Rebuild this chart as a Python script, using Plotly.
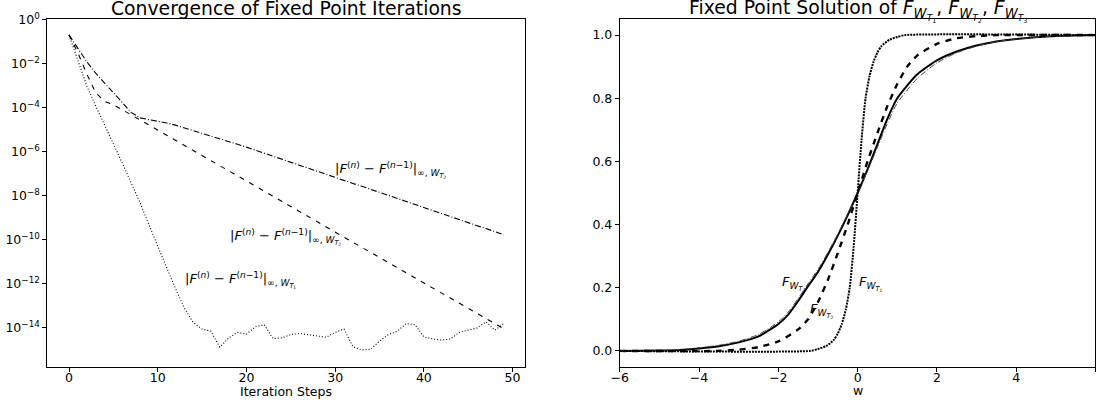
import plotly.graph_objects as go

# ---------------- data: left panel (log10 of sup-norm differences) ----------------
steps = list(range(50))
log_err_T1 = [-0.68, -1.8, -3.0, -3.9, -4.75, -5.6, -6.5, -7.4, -8.3, -9.3,
              -10.3, -11.25, -12.2, -13.1, -13.75, -14.05, -14.15, -14.87, -14.45, -14.2,
              -14.28, -13.95, -13.85, -14.48, -14.45, -14.3, -14.25, -14.3, -14.36, -14.42,
              -14.2, -14.05, -14.85, -15.0, -14.97, -14.6, -14.3, -14.15, -13.8, -13.85,
              -14.4, -14.5, -14.55, -14.5, -14.2, -14.1, -14.0, -13.72, -14.1, -13.8]
log_err_T2 = [-0.68, -1.5, -2.45, -3.3, -3.7, -3.85, -4.08, -4.31, -4.55, -4.78,
              -5.01, -5.24, -5.47, -5.70, -5.93, -6.17, -6.40, -6.63, -6.86, -7.09,
              -7.32, -7.55, -7.79, -8.02, -8.25, -8.48, -8.71, -8.94, -9.17, -9.41,
              -9.64, -9.87, -10.10, -10.33, -10.56, -10.79, -11.03, -11.26, -11.49, -11.72,
              -11.95, -12.18, -12.41, -12.65, -12.88, -13.11, -13.34, -13.57, -13.80, -14.03]
log_err_T3 = [-0.68, -1.3, -1.9, -2.42, -2.85, -3.3, -3.75, -4.2, -4.45, -4.53,
              -4.6, -4.68, -4.78, -4.9, -5.02, -5.15, -5.27, -5.4, -5.52, -5.65,
              -5.78, -5.92, -6.05, -6.19, -6.33, -6.47, -6.60, -6.74, -6.88, -7.01,
              -7.15, -7.29, -7.43, -7.56, -7.70, -7.84, -7.97, -8.11, -8.25, -8.39,
              -8.52, -8.66, -8.80, -8.93, -9.07, -9.21, -9.35, -9.48, -9.62, -9.76]
err_T1 = [10 ** v for v in log_err_T1]
err_T2 = [10 ** v for v in log_err_T2]
err_T3 = [10 ** v for v in log_err_T3]

log_tick_vals = [1e0, 1e-2, 1e-4, 1e-6, 1e-8, 1e-10, 1e-12, 1e-14]
log_tick_text = ["10<sup>0</sup>", "10<sup>\u22122</sup>", "10<sup>\u22124</sup>", "10<sup>\u22126</sup>",
                 "10<sup>\u22128</sup>", "10<sup>\u221210</sup>", "10<sup>\u221212</sup>", "10<sup>\u221214</sup>"]

# ---------------- data: right panel (fixed point CDFs) ----------------
w_T1 = [-6, -1.2, -1.0, -0.8, -0.6, -0.5, -0.4, -0.3, -0.2, -0.1, 0.0,
        0.1, 0.2, 0.3, 0.4, 0.5, 0.6, 0.8, 1.0, 1.2, 6]
F_T1 = [0.0, 0.0, 0.006, 0.015, 0.035, 0.055, 0.085, 0.13, 0.2, 0.33, 0.5,
        0.67, 0.8, 0.87, 0.915, 0.945, 0.965, 0.985, 0.994, 1.0, 1.0]

w_T2 = [-6, -3.5, -3.0, -2.5, -2.0, -1.5, -1.25, -1.0, -0.75, -0.5, -0.25, 0.0,
        0.25, 0.5, 0.75, 1.0, 1.25, 1.5, 2.0, 2.5, 3.0, 3.5, 6]
F_T2 = [0.0, 0.0, 0.004, 0.012, 0.03, 0.068, 0.1, 0.155, 0.225, 0.31, 0.4, 0.5,
        0.6, 0.69, 0.775, 0.845, 0.9, 0.935, 0.972, 0.99, 0.997, 1.0, 1.0]

w_T3 = [-6, -5.0, -4.5, -4.0, -3.5, -3.0, -2.5, -2.0, -1.75, -1.5, -1.25, -1.0, -0.75, -0.5, -0.25, 0.0,
        0.25, 0.5, 0.75, 1.0, 1.5, 2.0, 2.5, 3.0, 3.5, 4.0, 5.0, 6]
F_T3 = [0.0, 0.001, 0.003, 0.008, 0.015, 0.027, 0.046, 0.085, 0.115, 0.158, 0.205, 0.25, 0.305, 0.365, 0.43, 0.5,
        0.575, 0.655, 0.735, 0.8, 0.875, 0.92, 0.948, 0.967, 0.98, 0.988, 0.997, 1.0]
F_T3_alt = [0.0, 0.001, 0.004, 0.01, 0.018, 0.031, 0.052, 0.092, 0.123, 0.166, 0.213, 0.258, 0.312, 0.37, 0.434, 0.5,
            0.57, 0.645, 0.72, 0.785, 0.862, 0.912, 0.944, 0.965, 0.979, 0.988, 0.997, 1.0]

FONT = "DejaVu Sans"
W, H = 1096, 404

fig = go.Figure()

# left panel
fig.add_trace(go.Scatter(x=steps, y=err_T1, mode="lines", line=dict(color="black", width=1.1, dash="1px,2px"),
                         xaxis="x", yaxis="y", showlegend=False))
fig.add_trace(go.Scatter(x=steps, y=err_T2, mode="lines", line=dict(color="black", width=1.1, dash="5px,6px"),
                         xaxis="x", yaxis="y", showlegend=False))
fig.add_trace(go.Scatter(x=steps, y=err_T3, mode="lines", line=dict(color="black", width=1.1, dash="6px,2px,1px,2px"),
                         xaxis="x", yaxis="y", showlegend=False))

# right panel
fig.add_trace(go.Scatter(x=w_T3, y=F_T3, mode="lines", line=dict(color="black", width=2.0, shape="spline", smoothing=0.6),
                         xaxis="x2", yaxis="y2", showlegend=False))
fig.add_trace(go.Scatter(x=w_T3, y=F_T3_alt, mode="lines", line=dict(color="#444", width=1, dash="6px,2px,1px,2px", shape="spline", smoothing=0.6),
                         xaxis="x2", yaxis="y2", showlegend=False))
fig.add_trace(go.Scatter(x=w_T2, y=F_T2, mode="lines", line=dict(color="black", width=2.4, dash="6px,6px", shape="spline", smoothing=0.6),
                         xaxis="x2", yaxis="y2", showlegend=False))
fig.add_trace(go.Scatter(x=w_T1, y=F_T1, mode="lines", line=dict(color="black", width=2.0, dash="2px,1px", shape="spline", smoothing=0.6),
                         xaxis="x2", yaxis="y2", showlegend=False))

ydom = [37.3 / H, 1 - 19.3 / H]
x1dom = [47.3 / W, 525.4 / W]
x2dom = [619.8 / W, 0.9995]

axis_common = dict(showline=True, linecolor="black", linewidth=1, mirror=True, ticks="outside",
                   ticklen=4, tickwidth=1, tickcolor="black", showgrid=False, zeroline=False,
                   automargin=False,
                   tickfont=dict(family=FONT, size=12.5, color="black"))

fig.update_layout(
    width=W, height=H, margin=dict(l=0, r=0, t=0, b=0, autoexpand=False),
    paper_bgcolor="white", plot_bgcolor="white",
    font=dict(family=FONT, color="black"),
    xaxis=dict(domain=x1dom, range=[-2.45, 51.45], tickvals=[0, 10, 20, 30, 40, 50], anchor="y",
               ticklabelstandoff=-5, **axis_common),
    yaxis=dict(domain=ydom, type="log", range=[-15.76, 0.03], tickvals=log_tick_vals, ticktext=log_tick_text,
               anchor="x", **axis_common),
    xaxis2=dict(domain=x2dom, range=[-6, 6], tickvals=[-6, -4, -2, 0, 2, 4, 6], anchor="y2",
                ticklabelstandoff=-5, **axis_common),
    yaxis2=dict(domain=ydom, range=[-0.05, 1.05], tickvals=[0, 0.2, 0.4, 0.6, 0.8, 1.0], tickformat=".1f",
                anchor="x2", **axis_common),
)

lab_font = dict(family=FONT, size=13, color="black")
err_lbl = "|<i>F</i><sup>(<i>n</i>)</sup> \u2212 <i>F</i><sup>(<i>n</i>\u22121)</sup>|<sub>\u221e, <i>W</i><sub><i>T</i><sub>{}</sub></sub></sub>"
ann = [
    dict(x=29.8, y=-6.82, xref="x", yref="y", text=err_lbl.format(2), xanchor="left", yanchor="middle"),
    dict(x=17.9, y=-9.88, xref="x", yref="y", text=err_lbl.format(2), xanchor="left", yanchor="middle"),
    dict(x=12.9, y=-11.82, xref="x", yref="y", text=err_lbl.format(1), xanchor="left", yanchor="middle"),
    dict(x=-1.95, y=0.213, xref="x2", yref="y2", text="<i>F</i><sub><i>W</i><sub><i>T</i><sub>3</sub></sub></sub>", xanchor="left", yanchor="middle"),
    dict(x=-1.25, y=0.129, xref="x2", yref="y2", text="<i>F</i><sub><i>W</i><sub><i>T</i><sub>2</sub></sub></sub>", xanchor="left", yanchor="middle"),
    dict(x=-0.02, y=0.213, xref="x2", yref="y2", text="<i>F</i><sub><i>W</i><sub><i>T</i><sub>1</sub></sub></sub>", xanchor="left", yanchor="middle"),
]
for a in ann:
    a.update(showarrow=False, font=lab_font)

title_font = dict(family=FONT, size=18.8, color="black")
ann += [
    dict(x=sum(x1dom) / 2, y=1 - 21 / H, xref="paper", yref="paper", text="Convergence of Fixed Point Iterations",
         showarrow=False, xanchor="center", yanchor="bottom", font=title_font),
    dict(x=858 / W, y=1 - 27 / H, xref="paper", yref="paper",
         text="Fixed Point Solution of <i>F</i><sub><i>W</i><sub><i>T</i><sub>1</sub></sub></sub>, <i>F</i><sub><i>W</i><sub><i>T</i><sub>2</sub></sub></sub>, <i>F</i><sub><i>W</i><sub><i>T</i><sub>3</sub></sub></sub>",
         showarrow=False, xanchor="center", yanchor="bottom", font=title_font),
    dict(x=sum(x1dom) / 2, y=1 - 391 / H, xref="paper", yref="paper", text="Iteration Steps",
         showarrow=False, xanchor="center", yanchor="middle", font=dict(family=FONT, size=12.5, color="black")),
    dict(x=858 / W, y=1 - 390 / H, xref="paper", yref="paper", text="w",
         showarrow=False, xanchor="center", yanchor="middle", font=dict(family=FONT, size=12.5, color="black")),
]
fig.update_layout(annotations=ann)

fig.write_html("out.html")
